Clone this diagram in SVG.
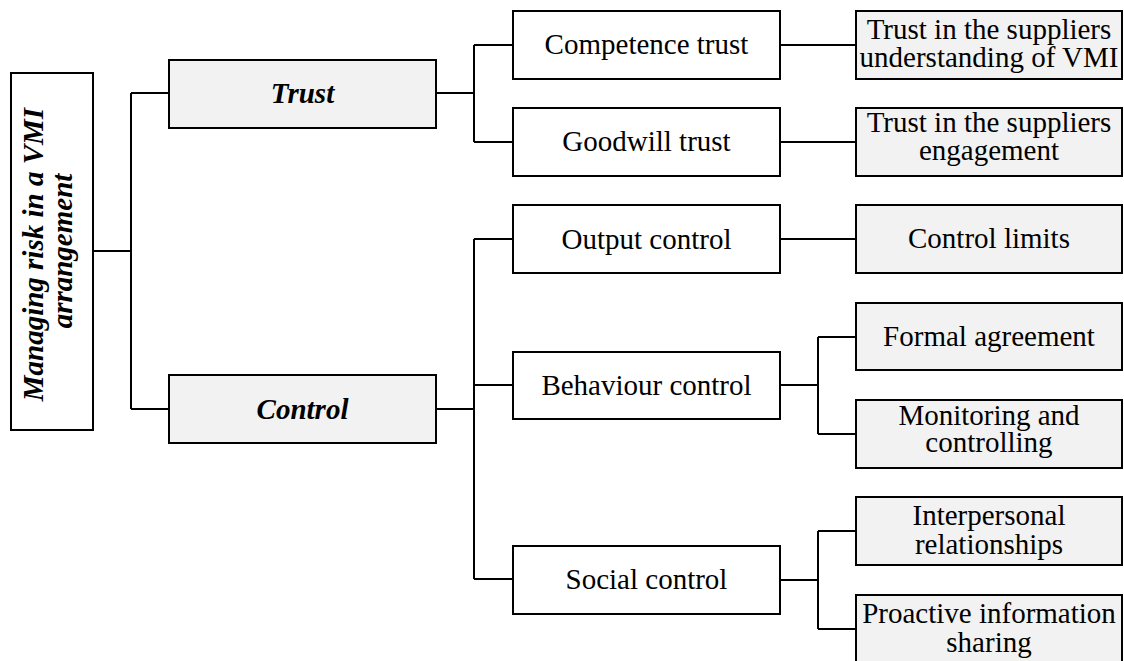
<svg xmlns="http://www.w3.org/2000/svg" width="1124" height="661" viewBox="0 0 1124 661">
  <style>
    .box { stroke: #000; stroke-width: 2; }
    .plain { fill: #ffffff; }
    .shade { fill: #f2f2f2; }
    .lbl { font-family: "Liberation Serif", "Times New Roman", serif; font-size: 29px; fill: #000; text-anchor: middle; }
    .head { font-weight: bold; font-style: italic; }
    .wire { fill: none; stroke: #000; stroke-width: 2; }
  </style>
  <rect width="1124" height="661" fill="#ffffff"/>

  <!-- connectors -->
  <g id="connectors" class="wire">
    <path d="M93,251 H131 M131,93 V409 M131,93 H169 M131,409 H169"/>
    <path d="M436,93 H474 M474,45 V142 M474,45 H513 M474,142 H513"/>
    <path d="M780,45 H856 M780,142 H856"/>
    <path d="M436,409 H474 M474,239 V579 M474,239 H513 M474,385 H513 M474,579 H513"/>
    <path d="M780,239 H856"/>
    <path d="M780,385 H818 M818,337 V434 M818,337 H856 M818,434 H856"/>
    <path d="M780,580 H818 M818,531 V629 M818,531 H856 M818,629 H856"/>
  </g>

  <!-- root -->
  <g id="root">
    <rect class="box plain" x="11" y="73" width="82" height="357"/>
    <text class="lbl head" transform="translate(52,251) rotate(-90)">
      <tspan x="0" y="-9">Managing risk in a VMI</tspan>
      <tspan x="0" y="20">arrangement</tspan>
    </text>
  </g>

  <!-- level 1 -->
  <g id="trust">
    <rect class="box shade" x="169" y="60" width="267" height="68"/>
    <text class="lbl head" x="302.5" y="103">Trust</text>
  </g>
  <g id="control">
    <rect class="box shade" x="169" y="375" width="267" height="68"/>
    <text class="lbl head" x="302.5" y="419">Control</text>
  </g>

  <!-- level 2 -->
  <g id="competence-trust">
    <rect class="box plain" x="513" y="11" width="267" height="68"/>
    <text class="lbl" x="646.5" y="54">Competence trust</text>
  </g>
  <g id="goodwill-trust">
    <rect class="box plain" x="513" y="108" width="267" height="68"/>
    <text class="lbl" x="646.5" y="151">Goodwill trust</text>
  </g>
  <g id="output-control">
    <rect class="box plain" x="513" y="205" width="267" height="68"/>
    <text class="lbl" x="646.5" y="249">Output control</text>
  </g>
  <g id="behaviour-control">
    <rect class="box plain" x="513" y="352" width="267" height="67"/>
    <text class="lbl" x="646.5" y="395">Behaviour control</text>
  </g>
  <g id="social-control">
    <rect class="box plain" x="513" y="546" width="267" height="68"/>
    <text class="lbl" x="646.5" y="589">Social control</text>
  </g>

  <!-- level 3 -->
  <g id="trust-understanding">
    <rect class="box shade" x="856" y="11" width="266" height="68"/>
    <text class="lbl" x="989" y="39"><tspan x="989">Trust in the suppliers</tspan><tspan x="989" dy="28">understanding of VMI</tspan></text>
  </g>
  <g id="trust-engagement">
    <rect class="box shade" x="856" y="108" width="266" height="68"/>
    <text class="lbl" x="989" y="132"><tspan x="989">Trust in the suppliers</tspan><tspan x="989" dy="28">engagement</tspan></text>
  </g>
  <g id="control-limits">
    <rect class="box shade" x="856" y="205" width="266" height="68"/>
    <text class="lbl" x="989" y="248">Control limits</text>
  </g>
  <g id="formal-agreement">
    <rect class="box shade" x="856" y="303" width="266" height="67"/>
    <text class="lbl" x="989" y="346">Formal agreement</text>
  </g>
  <g id="monitoring">
    <rect class="box shade" x="856" y="400" width="266" height="68"/>
    <text class="lbl" x="989" y="425"><tspan x="989">Monitoring and</tspan><tspan x="989" dy="27">controlling</tspan></text>
  </g>
  <g id="interpersonal">
    <rect class="box shade" x="856" y="497" width="266" height="68"/>
    <text class="lbl" x="989" y="525"><tspan x="989">Interpersonal</tspan><tspan x="989" dy="29">relationships</tspan></text>
  </g>
  <g id="proactive-sharing">
    <rect class="box shade" x="856" y="595" width="266" height="68"/>
    <text class="lbl" x="989" y="623"><tspan x="989">Proactive information</tspan><tspan x="989" dy="29">sharing</tspan></text>
  </g>
</svg>
